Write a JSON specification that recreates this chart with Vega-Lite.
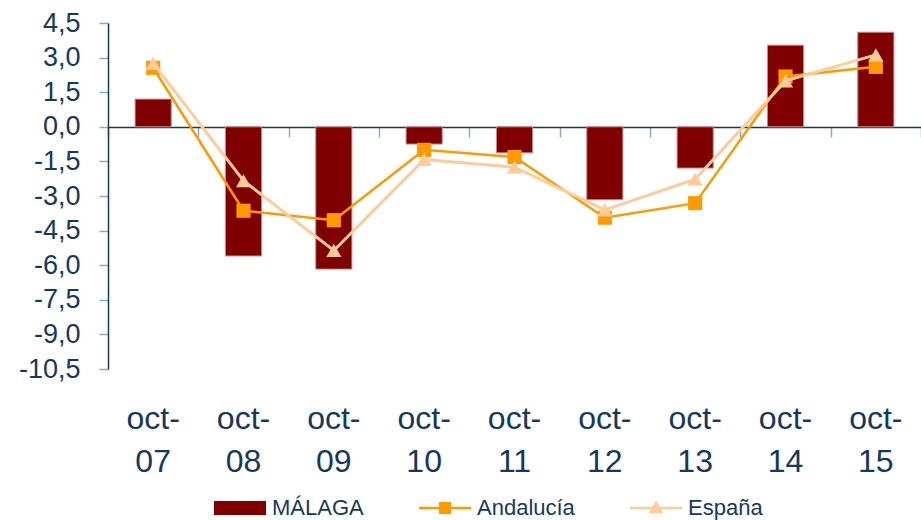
{
  "$schema": "https://vega.github.io/schema/vega-lite/v6.json",
  "width": 813,
  "height": 346,
  "autosize": {"type": "none"},
  "padding": {"left": 108, "top": 23, "right": 0, "bottom": 151},
  "background": "white",
  "config": {
    "view": {"stroke": null},
    "font": "Liberation Sans",
    "locale": {"number": {"decimal": ",", "thousands": ".", "grouping": [3], "currency": ["", " €"], "minus": "-"}},
    "axisY": {"labelOverlap": false, "labelFontSize": 27, "labelColor": "#17375E", "labelPadding": 19, "grid": false, "domainColor": "#17375E", "domainWidth": 1.5, "tickColor": "#8EA9C1", "tickSize": 9, "tickWidth": 1.5},
    "legend": {"orient": "none", "legendX": 106, "legendY": 459, "direction": "horizontal", "symbolSize": 2704, "labelFontSize": 22, "labelColor": "#17375E", "labelFont": "Liberation Sans", "columnPadding": 55, "labelOffset": 6, "symbolOpacity": 1, "symbolStrokeWidth": 0}
  },
  "data": {
    "values": [
      {"fecha": "oct-07", "serie": "MÁLAGA", "valor": 1.2},
      {"fecha": "oct-08", "serie": "MÁLAGA", "valor": -5.6},
      {"fecha": "oct-09", "serie": "MÁLAGA", "valor": -6.17},
      {"fecha": "oct-10", "serie": "MÁLAGA", "valor": -0.75},
      {"fecha": "oct-11", "serie": "MÁLAGA", "valor": -1.13},
      {"fecha": "oct-12", "serie": "MÁLAGA", "valor": -3.16},
      {"fecha": "oct-13", "serie": "MÁLAGA", "valor": -1.79},
      {"fecha": "oct-14", "serie": "MÁLAGA", "valor": 3.54},
      {"fecha": "oct-15", "serie": "MÁLAGA", "valor": 4.1},
      {"fecha": "oct-07", "serie": "Andalucía", "valor": 2.56},
      {"fecha": "oct-08", "serie": "Andalucía", "valor": -3.64},
      {"fecha": "oct-09", "serie": "Andalucía", "valor": -4.05},
      {"fecha": "oct-10", "serie": "Andalucía", "valor": -1.0},
      {"fecha": "oct-11", "serie": "Andalucía", "valor": -1.31},
      {"fecha": "oct-12", "serie": "Andalucía", "valor": -3.94},
      {"fecha": "oct-13", "serie": "Andalucía", "valor": -3.31},
      {"fecha": "oct-14", "serie": "Andalucía", "valor": 2.18},
      {"fecha": "oct-15", "serie": "Andalucía", "valor": 2.6},
      {"fecha": "oct-07", "serie": "España", "valor": 2.75},
      {"fecha": "oct-08", "serie": "España", "valor": -2.34},
      {"fecha": "oct-09", "serie": "España", "valor": -5.36},
      {"fecha": "oct-10", "serie": "España", "valor": -1.42},
      {"fecha": "oct-11", "serie": "España", "valor": -1.75},
      {"fecha": "oct-12", "serie": "España", "valor": -3.6},
      {"fecha": "oct-13", "serie": "España", "valor": -2.27},
      {"fecha": "oct-14", "serie": "España", "valor": 1.99},
      {"fecha": "oct-15", "serie": "España", "valor": 3.12}
    ]
  },
  "layer": [
    {
      "transform": [{"filter": "datum.serie === 'MÁLAGA'"}],
      "mark": {"type": "bar", "width": {"band": 0.4}, "stroke": "#C98A8A", "strokeWidth": 1},
      "encoding": {
        "x": {
          "field": "fecha", "type": "nominal", "sort": null,
          "scale": {"domain": ["oct-07","oct-08","oct-09","oct-10","oct-11","oct-12","oct-13","oct-14","oct-15"], "paddingInner": 0, "paddingOuter": 0},
          "axis": {"orient": "bottom", "title": null, "domain": false, "ticks": false, "labelAngle": 0, "labelFontSize": 32, "labelColor": "#17375E", "labelLineHeight": 43, "labelPadding": 34, "labelOverlap": false, "labelExpr": "['oct-', substring(datum.label, 4)]"}
        },
        "y": {
          "field": "valor", "type": "quantitative",
          "scale": {"domain": [-10.5, 4.5], "nice": false, "zero": false},
          "axis": {"title": null, "values": [-10.5,-9,-7.5,-6,-4.5,-3,-1.5,0,1.5,3,4.5], "tickCount": 11, "format": ".1f", "labelOverlap": false}
        },
        "color": {
          "field": "serie", "type": "nominal",
          "scale": {"domain": ["MÁLAGA", "Andalucía", "España"], "range": ["#800000", "#FF9900", "#FFCC99"]},
          "legend": {"title": null}
        }
      }
    },
    {
      "transform": [{"filter": "datum.serie === 'Andalucía'"}],
      "mark": {"type": "line", "strokeWidth": 2.5},
      "encoding": {
        "x": {"field": "fecha", "type": "nominal", "sort": null,
          "axis": {"orient": "bottom", "offset": -242, "labels": false, "title": null, "domainColor": "#17375E", "domainWidth": 1.5, "tickColor": "#8EA9C1", "tickSize": 10, "tickWidth": 1.5, "tickBand": "extent"}},
        "y": {"field": "valor", "type": "quantitative"},
        "color": {"field": "serie", "type": "nominal", "legend": null}
      }
    },
    {
      "transform": [{"filter": "datum.serie === 'Andalucía'"}],
      "mark": {"type": "point", "shape": "square", "filled": true, "size": 200, "opacity": 1},
      "encoding": {
        "x": {"field": "fecha", "type": "nominal", "sort": null, "axis": null},
        "y": {"field": "valor", "type": "quantitative"},
        "color": {"field": "serie", "type": "nominal", "legend": null}
      }
    },
    {
      "transform": [{"filter": "datum.serie === 'España'"}],
      "mark": {"type": "line", "strokeWidth": 3},
      "encoding": {
        "x": {"field": "fecha", "type": "nominal", "sort": null, "axis": null},
        "y": {"field": "valor", "type": "quantitative"},
        "color": {"field": "serie", "type": "nominal", "legend": null}
      }
    },
    {
      "transform": [{"filter": "datum.serie === 'España'"}],
      "mark": {"type": "point", "shape": "triangle-up", "filled": true, "size": 230, "opacity": 1},
      "encoding": {
        "x": {"field": "fecha", "type": "nominal", "sort": null, "axis": null},
        "y": {"field": "valor", "type": "quantitative"},
        "color": {"field": "serie", "type": "nominal", "legend": null}
      }
    },
    {
      "transform": [{"filter": "false"}],
      "mark": {"type": "point", "filled": true, "opacity": 1},
      "encoding": {
        "x": {"field": "fecha", "type": "nominal", "sort": null, "axis": null},
        "y": {"field": "valor", "type": "quantitative"},
        "color": {"field": "serie", "type": "nominal", "legend": null},
        "shape": {
          "field": "serie", "type": "nominal",
          "scale": {"domain": ["MÁLAGA", "Andalucía", "España"], "range": ["M-1,-0.27H1V0.27H-1Z", "M-1,-0.05H1V0.05H-1ZM-0.23,-0.23H0.23V0.23H-0.23Z", "M-1,-0.05H1V0.05H-1ZM0,-0.28L0.28,0.2H-0.28Z"]},
          "legend": {"title": null}
        }
      }
    }
  ],
  "resolve": {"axis": {"x": "independent"}}
}
